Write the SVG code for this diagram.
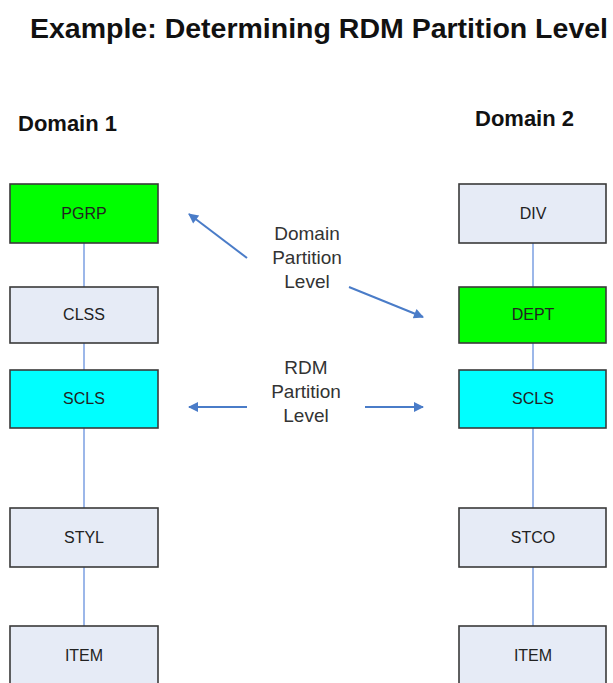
<svg xmlns="http://www.w3.org/2000/svg" width="613" height="683" viewBox="0 0 613 683">
<defs>
<style>
.box{stroke:#3a3a3a;stroke-width:1.6}
.plain{fill:#e6ebf6}
.green{fill:#00ff00}
.cyan{fill:#00ffff}
.bt{font-family:"Liberation Sans",Arial,sans-serif;font-size:16px;fill:#222;text-anchor:middle}
.lbl{font-family:"Liberation Sans",Arial,sans-serif;font-size:19px;fill:#333;text-anchor:middle}
.hd{font-family:"Liberation Sans",Arial,sans-serif;font-weight:bold;fill:#111}
.conn{stroke:#7b9fe2;stroke-width:1.5;fill:none}
.arr{stroke:#4a7cc8;stroke-width:2;fill:none;marker-end:url(#ah)}
</style>
<marker id="ah" viewBox="0 0 10 10" refX="9" refY="5" markerWidth="12" markerHeight="10" orient="auto" markerUnits="userSpaceOnUse">
<path d="M0,0 L10,5 L0,10 z" fill="#4a7cc8"/>
</marker>
</defs>
<rect width="613" height="683" fill="#fff"/>
<text class="hd" x="30" y="38" font-size="27" textLength="578" lengthAdjust="spacingAndGlyphs">Example: Determining RDM Partition Level</text>
<text class="hd" x="18" y="131" font-size="22">Domain 1</text>
<text class="hd" x="475" y="126" font-size="22">Domain 2</text>
<g id="connectors">
<line class="conn" x1="84" y1="243" x2="84" y2="287"/>
<line class="conn" x1="84" y1="343" x2="84" y2="370"/>
<line class="conn" x1="84" y1="428" x2="84" y2="508"/>
<line class="conn" x1="84" y1="567" x2="84" y2="626"/>
<line class="conn" x1="533" y1="243" x2="533" y2="287"/>
<line class="conn" x1="533" y1="343" x2="533" y2="370"/>
<line class="conn" x1="533" y1="428" x2="533" y2="508"/>
<line class="conn" x1="533" y1="567" x2="533" y2="626"/>
<line class="arr" x1="247" y1="258" x2="189" y2="214"/>
<line class="arr" x1="349" y1="287" x2="423" y2="317"/>
<line class="arr" x1="247" y1="407" x2="189" y2="407"/>
<line class="arr" x1="365" y1="407" x2="423" y2="407"/>
</g>
<g id="label-domain">
<text class="lbl" x="307" y="240">Domain</text>
<text class="lbl" x="307" y="264">Partition</text>
<text class="lbl" x="307" y="288">Level</text>
</g>
<g id="label-rdm">
<text class="lbl" x="306" y="374">RDM</text>
<text class="lbl" x="306" y="398">Partition</text>
<text class="lbl" x="306" y="422">Level</text>
</g>
<g id="pgrp"><rect class="box green" x="10" y="184" width="148" height="59"/><text class="bt" x="84" y="219">PGRP</text></g>
<g id="clss"><rect class="box plain" x="10" y="287" width="148" height="56"/><text class="bt" x="84" y="320">CLSS</text></g>
<g id="scls1"><rect class="box cyan" x="10" y="370" width="148" height="58"/><text class="bt" x="84" y="404">SCLS</text></g>
<g id="styl"><rect class="box plain" x="10" y="508" width="148" height="59"/><text class="bt" x="84" y="543">STYL</text></g>
<g id="item1"><rect class="box plain" x="10" y="626" width="148" height="70"/><text class="bt" x="84" y="661">ITEM</text></g>
<g id="div"><rect class="box plain" x="459" y="184" width="147" height="59"/><text class="bt" x="533" y="219">DIV</text></g>
<g id="dept"><rect class="box green" x="459" y="287" width="147" height="56"/><text class="bt" x="533" y="320">DEPT</text></g>
<g id="scls2"><rect class="box cyan" x="459" y="370" width="147" height="58"/><text class="bt" x="533" y="404">SCLS</text></g>
<g id="stco"><rect class="box plain" x="459" y="508" width="147" height="59"/><text class="bt" x="533" y="543">STCO</text></g>
<g id="item2"><rect class="box plain" x="459" y="626" width="147" height="70"/><text class="bt" x="533" y="661">ITEM</text></g>
</svg>
